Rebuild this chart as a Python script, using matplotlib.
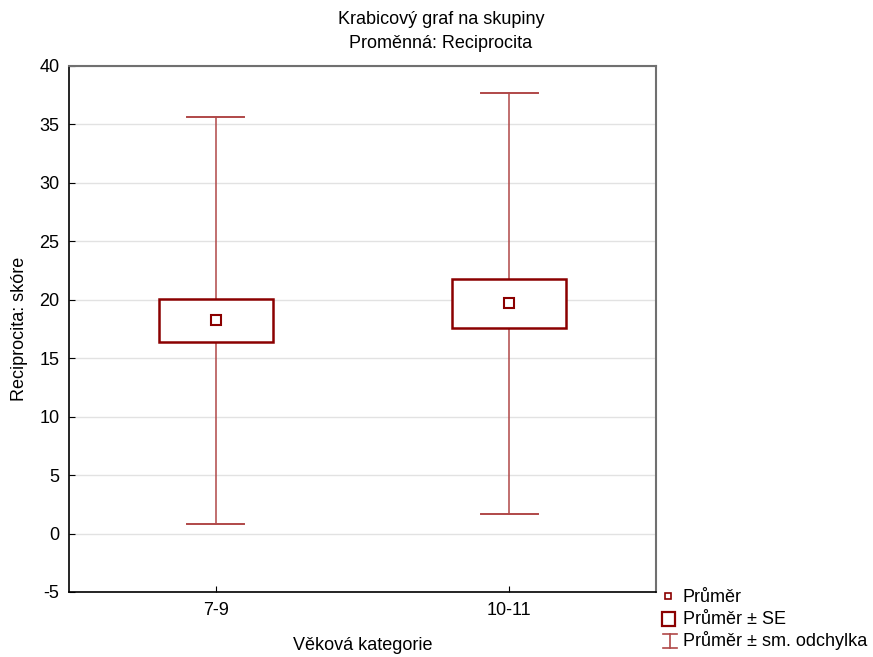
import matplotlib
matplotlib.use("Agg")
import matplotlib.pyplot as plt
from matplotlib.patches import Rectangle
from matplotlib.lines import Line2D

plt.rcParams['font.family'] = ['Liberation Sans', 'DejaVu Sans']

# Summary statistics per age group
categories = ["7-9", "10-11"]
means = [18.25, 19.7]
se = [1.85, 2.1]
sd = [17.4, 18.0]
yticks = [-5, 0, 5, 10, 15, 20, 25, 30, 35, 40]

box_col = "#8b0000"
whisk_col = "#b04848"
FS = 13

W, H = 873, 657
fig = plt.figure(figsize=(W / 100, H / 100), dpi=100)
ax = fig.add_axes([69 / W, 1 - 592 / H, (656 - 69) / W, (592 - 66) / H])

pos = list(range(1, len(categories) + 1))
box_w = 0.39
cap_w = 0.195
for x, m, s, d in zip(pos, means, se, sd):
    # whisker: mean ± SD
    ax.plot([x, x], [m - d, m - s], color=whisk_col, lw=1.1, zorder=2)
    ax.plot([x, x], [m + s, m + d], color=whisk_col, lw=1.1, zorder=2)
    ax.plot([x - cap_w / 2, x + cap_w / 2], [m + d, m + d], color=whisk_col, lw=1.4, zorder=2)
    ax.plot([x - cap_w / 2, x + cap_w / 2], [m - d, m - d], color=whisk_col, lw=1.4, zorder=2)
    # box: mean ± SE
    ax.add_patch(Rectangle((x - box_w / 2, m - s), box_w, 2 * s, facecolor="white",
                           edgecolor=box_col, lw=1.8, zorder=3))
    # mean marker
    ax.plot([x], [m], marker="s", ms=7, mfc="white", mec=box_col, mew=1.5, zorder=4)

ax.set_xlim(0.5, len(categories) + 0.5)
ax.set_ylim(-5, 40)
ax.set_xticks(pos)
ax.set_xticklabels(categories)
ax.set_yticks(yticks)
ax.set_yticklabels([str(v) for v in yticks])
ax.yaxis.grid(True, color="#e2e2e2", lw=1, zorder=0)
ax.set_axisbelow(True)
ax.tick_params(direction="in", length=4, labelsize=FS, colors="black", pad=7)
ax.tick_params(top=False, right=False)
for side in ("left", "bottom"):
    ax.spines[side].set_color("black")
    ax.spines[side].set_linewidth(1.2)
for side in ("top", "right"):
    ax.spines[side].set_color("#707070")
    ax.spines[side].set_linewidth(1.5)

ax.set_xlabel("Věková kategorie", fontsize=FS, labelpad=13)
ax.set_ylabel("Reciprocita: skóre", fontsize=FS, labelpad=8)

fig.text(441 / W, 1 - 19 / H, "Krabicový graf na skupiny", ha="center", va="center", fontsize=FS)
fig.text(441 / W, 1 - 44 / H, "Proměnná: Reciprocita", ha="center", va="center", fontsize=FS)

# legend drawn in figure pixel coordinates
def fx(px):
    return px / W

def fy(py):
    return 1 - py / H

fig.add_artist(Rectangle((fx(665), fy(599)), 6 / W, 6 / H, transform=fig.transFigure,
                         facecolor="white", edgecolor=box_col, lw=1.2))
fig.add_artist(Rectangle((fx(662), fy(626)), 13 / W, 14 / H, transform=fig.transFigure,
                         facecolor="white", edgecolor=box_col, lw=1.6))
fig.add_artist(Line2D([fx(663), fx(677)], [fy(634), fy(634)], transform=fig.transFigure,
                      color=whisk_col, lw=1.2))
fig.add_artist(Line2D([fx(663), fx(677)], [fy(648), fy(648)], transform=fig.transFigure,
                      color=whisk_col, lw=1.2))
fig.add_artist(Line2D([fx(670), fx(670)], [fy(634), fy(648)], transform=fig.transFigure,
                      color=whisk_col, lw=1.2))
for ty, txt in [(598, "Průměr"), (619, "Průměr ± SE"), (640, "Průměr ± sm. odchylka")]:
    fig.text(fx(683), fy(ty), txt, ha="left", va="center", fontsize=FS)

fig.savefig("out.png", dpi=100)
